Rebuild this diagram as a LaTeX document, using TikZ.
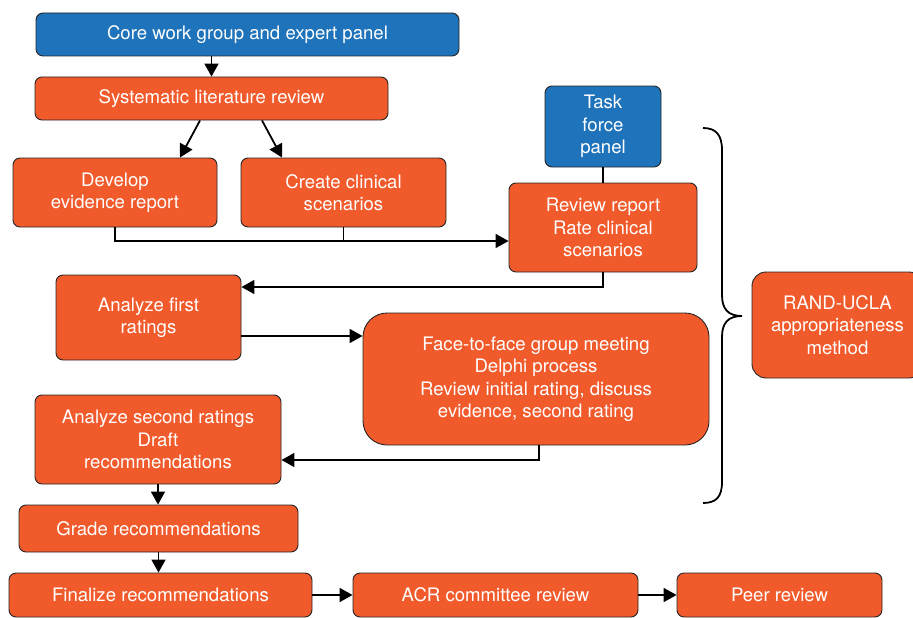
\documentclass[tikz,border=0pt]{standalone}
\usepackage{fontspec}
\setmainfont{TeX Gyre Heros}
\usetikzlibrary{arrows.meta}
\definecolor{orng}{HTML}{F15A2B}
\definecolor{blu}{HTML}{1F73BA}
\tikzset{
  box/.style={draw=black!85, line width=0.9pt, fill=orng, text=white, rounded corners=7pt,
    inner sep=0pt, align=center, font=\fontsize{18.6}{22.5}\selectfont},
  bbox/.style={box, fill=blu},
  arr/.style={line width=1.8pt, -{Triangle[length=13pt,width=14pt]}},
  ln/.style={line width=1.8pt},
}
\begin{document}
\begin{tikzpicture}[x=1pt,y=-1pt]
\useasboundingbox (0,0) rectangle (913,618);
\node[bbox, minimum width=423, minimum height=43] (core) at (247.5,34.5) {Core work group and expert panel};
\node[box, minimum width=353, minimum height=43] (sys) at (211.5,98.5) {Systematic literature review};
\node[box, minimum width=204, minimum height=69] (dev) at (115,192.5) {Develop\\evidence report};
\node[box, minimum width=205, minimum height=69] (cre) at (343.5,192.5) {Create clinical\\scenarios};
\node[bbox, minimum width=116, minimum height=81] (task) at (603,126.5) {Task\\force\\panel};
\node[box, minimum width=188, minimum height=89] (rev) at (603,227.5) {Review report\\Rate clinical\\scenarios};
\node[box, minimum width=185, minimum height=85] (af) at (148.5,317.5) {Analyze first\\ratings};
\node[box, rounded corners=24pt, minimum width=346, minimum height=132] (face) at (536,379) {Face-to-face group meeting\\Delphi process\\Review initial rating, discuss\\evidence, second rating};
\node[box, minimum width=246, minimum height=89] (as) at (158,439.5) {Analyze second ratings\\Draft\\recommendations};
\node[box, minimum width=279, minimum height=47] (grade) at (158.5,528.5) {Grade recommendations};
\node[box, minimum width=303, minimum height=44] (fin) at (160.5,595) {Finalize recommendations};
\node[box, minimum width=285, minimum height=44] (acr) at (495.5,595) {ACR committee review};
\node[box, minimum width=205, minimum height=44] (peer) at (779.5,595) {Peer review};
\node[box, rounded corners=14pt, minimum width=171, minimum height=106] (rand) at (837.5,325) {RAND-UCLA\\appropriateness\\method};

\draw[arr] (core.south -| sys.north) -- (sys.north);
\draw[arr] ([xshift=-11.5pt]sys.south) -- ([xshift=65pt]dev.north);
\draw[arr] ([xshift=50.5pt]sys.south) -- ([xshift=-61.5pt]cre.north);
\draw[ln] (cre.south) -- (cre.south |- 0,241);
\draw[arr] (dev.south) |- (rev.west |- 0,241);
\draw[ln] (task.south) -- (rev.north);
\draw[arr] (rev.south) |- (af.east |- 0,287);
\draw[arr] (af.east |- 0,336) -- (face.west |- 0,336);
\draw[arr] ([xshift=3pt]face.south) |- (as.east |- 0,460);
\draw[arr] (as.south) -- (as.south |- grade.north);
\draw[arr] (grade.south) -- (grade.south |- fin.north);
\draw[arr] (fin.east) -- (acr.west);
\draw[arr] (acr.east) -- (peer.west);

\draw[line width=1.8pt] (703,128) .. controls (716,128) and (722,135) .. (722,150) -- (722,295)
  .. controls (722,309) and (728,316) .. (742,316)
  .. controls (728,316) and (722,323) .. (722,337) -- (722,482)
  .. controls (722,497) and (716,503) .. (703,503);
\end{tikzpicture}
\end{document}
